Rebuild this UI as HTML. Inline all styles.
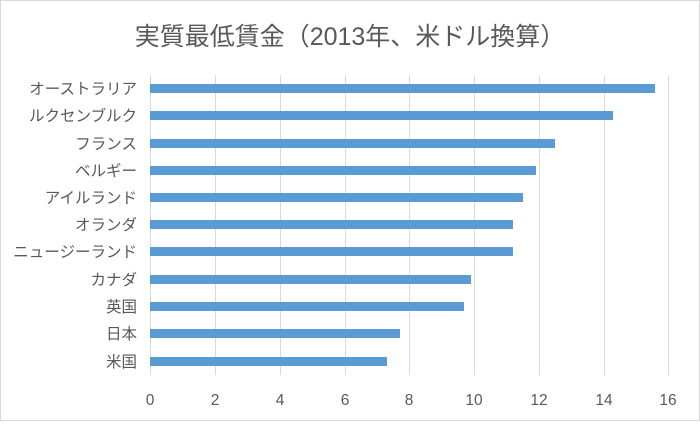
<!DOCTYPE html>
<html><head><meta charset="utf-8"><style>
body{margin:0;background:#fff}
svg text{font-family:"Liberation Sans","Noto Sans CJK JP",sans-serif;fill:#595959}
</style></head><body>
<svg width="700" height="421" xmlns="http://www.w3.org/2000/svg">
<rect x="0.5" y="0.5" width="699" height="420" fill="#fff" stroke="#d9d9d9"/>
<text x="350" y="45" text-anchor="middle" font-size="25">実質最低賃金（2013年、米ドル換算）</text>
<g stroke="#d9d9d9" stroke-width="1">
<line x1="150.5" y1="75" x2="150.5" y2="375"/><line x1="215.5" y1="75" x2="215.5" y2="375"/>
<line x1="280.5" y1="75" x2="280.5" y2="375"/><line x1="345.5" y1="75" x2="345.5" y2="375"/>
<line x1="409.5" y1="75" x2="409.5" y2="375"/><line x1="474.5" y1="75" x2="474.5" y2="375"/>
<line x1="539.5" y1="75" x2="539.5" y2="375"/><line x1="604.5" y1="75" x2="604.5" y2="375"/>
<line x1="668.5" y1="75" x2="668.5" y2="375"/>
</g>
<g fill="#5b9bd5">
<rect x="150" y="84" width="505" height="9"/>
<rect x="150" y="111" width="463" height="9"/>
<rect x="150" y="139" width="405" height="9"/>
<rect x="150" y="166" width="386" height="9"/>
<rect x="150" y="193" width="373" height="9"/>
<rect x="150" y="220" width="363" height="9"/>
<rect x="150" y="247" width="363" height="9"/>
<rect x="150" y="275" width="321" height="9"/>
<rect x="150" y="302" width="314" height="9"/>
<rect x="150" y="329" width="250" height="9"/>
<rect x="150" y="357" width="237" height="9"/>
</g>
<g font-size="15.5" text-anchor="end">
<text x="137" y="94">オーストラリア</text>
<text x="137" y="121">ルクセンブルク</text>
<text x="137" y="149">フランス</text>
<text x="137" y="176">ベルギー</text>
<text x="137" y="203">アイルランド</text>
<text x="137" y="230">オランダ</text>
<text x="137" y="257">ニュージーランド</text>
<text x="137" y="285">カナダ</text>
<text x="137" y="312">英国</text>
<text x="137" y="339">日本</text>
<text x="137" y="367">米国</text>
</g>
<g font-size="15.5" text-anchor="middle">
<text x="150" y="405">0</text><text x="215" y="405">2</text><text x="280" y="405">4</text>
<text x="345" y="405">6</text><text x="409" y="405">8</text><text x="474" y="405">10</text>
<text x="539" y="405">12</text><text x="604" y="405">14</text><text x="668" y="405">16</text>
</g>
</svg>
</body></html>
